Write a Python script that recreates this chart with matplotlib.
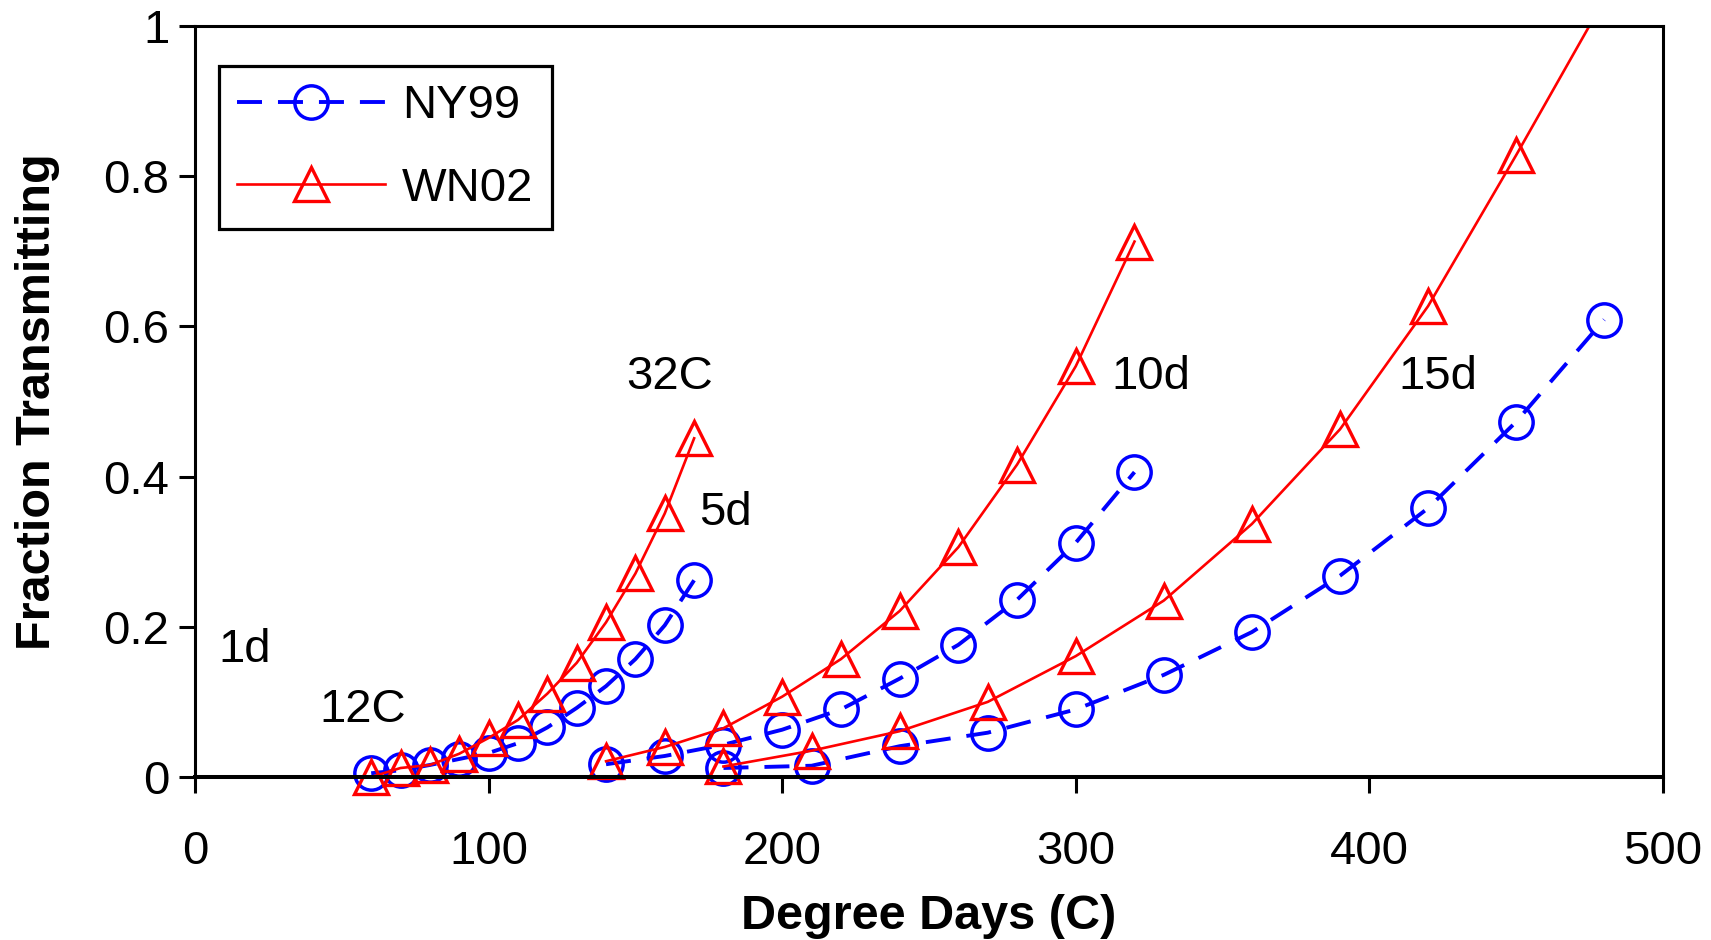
import matplotlib
matplotlib.use("Agg")
import matplotlib.pyplot as plt
from matplotlib.patches import Rectangle

plt.rcParams["font.family"] = ["Liberation Sans", "DejaVu Sans"]

# Degree-day sampling for each exposure group
dd_5d = [60, 70, 80, 90, 100, 110, 120, 130, 140, 150, 160, 170]
dd_10d = [140, 160, 180, 200, 220, 240, 260, 280, 300, 320]
dd_15d = [180, 210, 240, 270, 300, 330, 360, 390, 420, 450, 480]

# Fraction transmitting, NY99 strain
ny99_5d = [0.005, 0.009, 0.016, 0.024, 0.032, 0.045, 0.066, 0.092, 0.121, 0.157, 0.202, 0.262]
ny99_10d = [0.017, 0.028, 0.043, 0.063, 0.090, 0.131, 0.176, 0.236, 0.312, 0.406]
ny99_15d = [0.012, 0.015, 0.041, 0.059, 0.090, 0.136, 0.193, 0.268, 0.358, 0.473, 0.609]

# Fraction transmitting, WN02 strain
wn02_5d = [0.0, 0.012, 0.016, 0.031, 0.052, 0.076, 0.111, 0.152, 0.206, 0.271, 0.351, 0.451]
wn02_10d = [0.021, 0.040, 0.065, 0.107, 0.157, 0.221, 0.306, 0.416, 0.547, 0.713]
wn02_15d = [0.014, 0.035, 0.061, 0.100, 0.161, 0.235, 0.337, 0.463, 0.627, 0.828, 1.035]

x_ticks = [0, 100, 200, 300, 400, 500]
y_ticks = [0, 0.2, 0.4, 0.6, 0.8, 1.0]
y_tick_labels = ["0", "0.2", "0.4", "0.6", "0.8", "1"]

# Curve annotations: (text, x, y)
annotations = [
    ("32C", 161.8, 0.532),
    ("5d", 180.5, 0.352),
    ("10d", 325.6, 0.532),
    ("15d", 423.4, 0.532),
    ("1d", 17.0, 0.169),
    ("12C", 57.0, 0.089),
]

BLUE = "#0000FF"
RED = "#FF0000"
FS = 34

fig = plt.figure(figsize=(17.11, 9.40), dpi=100)
ax = fig.add_axes([0.1140, 0.1734, 0.8579, 0.7989])

blue_lw = 2.8
red_lw = 1.9
blue_style = dict(color=BLUE, lw=blue_lw, ls=(0, (18 / blue_lw, 11.5 / blue_lw)),
                  marker="o", ms=24, mew=2.5, mfc="none", mec=BLUE)
red_style = dict(color=RED, lw=red_lw, ls="-",
                 marker="^", ms=25, mew=2.4, mfc="none", mec=RED)

# Clip only at the top of the plot area; markers may hang below the x axis
clip_rect = Rectangle((-0.1, -0.2), 1.2, 1.2, transform=ax.transAxes,
                      fill=False, visible=False)
ax.add_patch(clip_rect)

lines = []
for i, (xs, ys) in enumerate([(dd_5d, ny99_5d), (dd_10d, ny99_10d), (dd_15d, ny99_15d)]):
    lines += ax.plot(xs, ys, label="NY99" if i == 0 else None, **blue_style)
for i, (xs, ys) in enumerate([(dd_5d, wn02_5d), (dd_10d, wn02_10d), (dd_15d, wn02_15d)]):
    lines += ax.plot(xs, ys, label="WN02" if i == 0 else None, **red_style)
for ln in lines:
    ln.set_clip_path(clip_rect)

for text, x, y in annotations:
    ax.text(x, y, text, fontsize=FS, ha="center", va="center")

ax.set_xlim(0, 500)
ax.set_ylim(0, 1)
ax.set_xticks(x_ticks)
ax.set_xticklabels([str(v) for v in x_ticks])
ax.set_yticks(y_ticks)
ax.set_yticklabels(y_tick_labels)

ax.tick_params(axis="both", direction="out", length=11.5, width=2.2, labelsize=FS)
ax.tick_params(axis="x", pad=27)
ax.tick_params(axis="y", pad=7)

for side in ["left", "top", "right"]:
    ax.spines[side].set_linewidth(2.2)
ax.spines["bottom"].set_linewidth(2.9)

ax.set_xlabel("Degree Days (C)", fontsize=35, fontweight="bold", labelpad=14)
ax.set_ylabel("Fraction Transmitting", fontsize=35, fontweight="bold", labelpad=31)

leg = ax.legend(loc="upper left", bbox_to_anchor=(0.0163, 0.947), fontsize=FS,
                frameon=True, fancybox=False, edgecolor="black", framealpha=1,
                borderpad=0.39, handlelength=3.13, handletextpad=0.35,
                labelspacing=0.81, borderaxespad=0.0)
leg.get_frame().set_linewidth(2.3)

fig.savefig("out.png", dpi=100)
